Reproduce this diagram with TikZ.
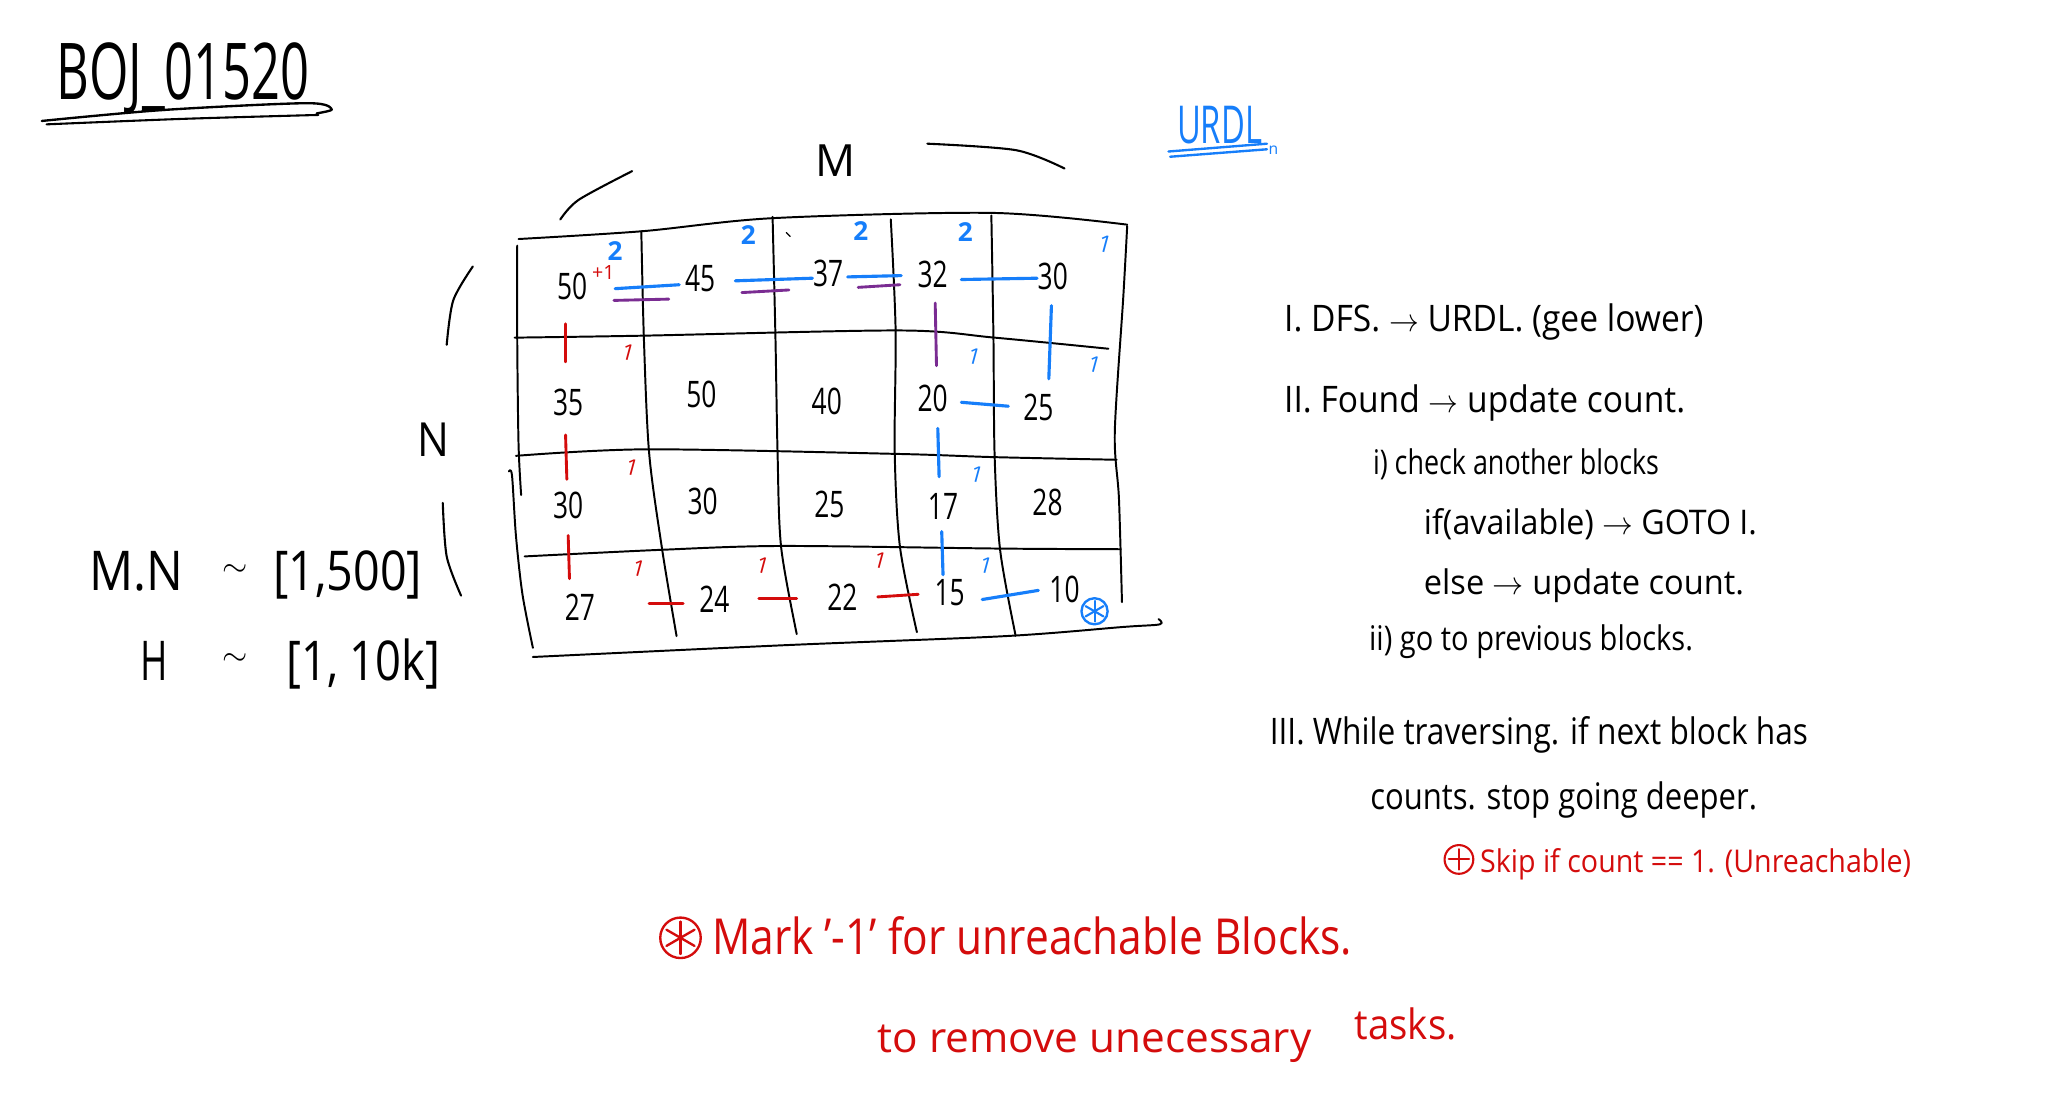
\documentclass[tikz,border=0pt]{standalone}
\usepackage{fontspec}
\setmainfont{Open Sans}
\usepackage{graphicx}
\definecolor{blueC}{RGB}{22,126,250}
\definecolor{redC}{RGB}{212,12,12}
\definecolor{purpC}{RGB}{122,44,146}
\newcommand{\fitw}[2]{\resizebox{#1pt}{\height}{#2}}
\newcommand{\fs}[1]{\fontsize{#1}{#1}\selectfont}
\begin{document}
\begin{tikzpicture}[x=1pt,y=-1pt,line cap=round,line join=round,
  gridl/.style={line width=1.5pt},
  num/.style={font=\fs{28}, inner sep=0pt, xscale=0.72},
  bl/.style={draw=blueC,line width=2.4pt},
  rd/.style={draw=redC,line width=2.2pt},
  pu/.style={draw=purpC,line width=2.2pt},
  cnt/.style={text=blueC,font=\bfseries\fs{20},inner sep=0pt},
  tk/.style={font=\fs{17},inner sep=0pt,rotate=-15},
  txt/.style={anchor=base west,inner sep=0pt},
  pen/.style={line width=1.6pt}]
\useasboundingbox[fill=white] (0,0) rectangle (1568,847);

% ---------- title ----------
\node[txt,font=\fs{60}] (title) at (43,76) {\fitw{194}{BOJ\_01520}};
\draw[line width=1.8pt] plot[smooth] coordinates {(32,92.6) (125,84.2) (234.8,79) (254,83.7) (242.5,86.8)};
\draw[line width=1.6pt] plot[smooth] coordinates {(35.7,95.2) (140,91) (243.7,88)};

% ---------- URDL ----------
\node[txt,font=\fs{40},text=blueC] (urdl) at (901,110) {\fitw{65}{URDL}};
\draw[draw=blueC,line width=1.8pt] (894.6,116) -- (970,110);
\draw[draw=blueC,line width=1.8pt] (895.9,120) -- (970,114.3);
\node[font=\fs{12},text=blueC,inner sep=0pt] (urdln) at (975,115) {n};

% ---------- M / N labels ----------
\node[font=\fs{34},inner sep=0pt] (Mlab) at (640,123) {M};
\draw[pen] plot[smooth] coordinates {(429,168) (443,153) (484,131)};
\draw[pen] plot[smooth] coordinates {(710,110) (778,115) (815,129)};
\node[font=\fs{36},inner sep=0pt,xscale=0.9] (Nlab) at (332,337) {N};
\draw[pen] plot[smooth] coordinates {(362,204) (347,230) (342,264)};
\draw[pen] plot[smooth] coordinates {(339,385) (342,426) (353,456)};

% ---------- grid ----------
\draw[gridl] plot[smooth] coordinates {(397,183) (492,177) (592,167) (760,163) (863,172)};
\draw[gridl] plot[smooth] coordinates {(394,258.5) (492,257) (689,253) (761.5,258.5) (848.6,267)};
\draw[gridl] plot[smooth] coordinates {(395,349) (495,344) (686,347.5) (761.5,350) (855,352)};
\draw[gridl] plot[smooth] coordinates {(401.7,426) (505,421) (598.5,418) (766,420) (858,420.5)};
\draw[gridl] plot[smooth] coordinates {(408,503) (600,494) (770,487) (860,480) (888,478) (887,474)};
\draw[gridl] plot[smooth] coordinates {(396,188) (396,260) (397,340) (399,379)};
\draw[gridl] plot[smooth] coordinates {(389.5,361) (392,364) (395,410) (400,455) (408,496)};
\draw[gridl] plot[smooth] coordinates {(491,177) (493,260) (497,347) (507,421) (518,487)};
\draw[gridl] plot[smooth] coordinates {(591.5,166) (593.7,258.5) (595.3,346) (598,418.5) (610,485.5)};
\draw[gridl] plot[smooth] coordinates {(682,168) (685.7,253) (685,346) (689,418.5) (702,484)};
\draw[gridl] plot[smooth] coordinates {(759,165) (760.6,258.5) (761.5,348.8) (765.7,421) (777.6,486.8)};
\draw[gridl] plot[smooth] coordinates {(863,173) (860,227.5) (853.5,331) (856.7,382) (859,461)};
\draw[line width=1pt] (602,178) -- (605,181);

% ---------- cell numbers ----------
\node[num] (n11) at (438,219) {50};
\node[num] (n12) at (536,213) {45};
\node[num] (n13) at (634,209) {37};
\node[num] (n14) at (714,210) {32};
\node[num] (n15) at (806,212) {30};
\node[num] (n21) at (435,308) {35};
\node[num] (n22) at (537,302) {50};
\node[num] (n23) at (633,307) {40};
\node[num] (n24) at (714,305) {20};
\node[num] (n25) at (795,312) {25};
\node[num] (n31) at (435,387) {30};
\node[num] (n32) at (538,384) {30};
\node[num] (n33) at (635,386) {25};
\node[num] (n34) at (722,388) {17};
\node[num] (n35) at (802,385) {28};
\node[num] (n41) at (444,465) {27};
\node[num] (n42) at (547,459) {24};
\node[num] (n43) at (645,457) {22};
\node[num] (n44) at (727,454) {15};
\node[num] (n45) at (815,451) {10};

% ---------- counts ----------
\node[cnt] (k1) at (471,192) {2};
\node[cnt] (k2) at (573,180) {2};
\node[cnt] (k3) at (659,177) {2};
\node[cnt] (k4) at (739,178) {2};
\node[cnt,rotate=-15,font=\fs{18}] (k5) at (846,187) {1};
\node[font=\fs{15},text=redC,inner sep=0pt] (plusone) at (462,209) {+1};

% ---------- tick marks ----------
\node[tk,text=redC] (t1) at (481,270) {1};
\node[tk,text=redC] (t2) at (484,358) {1};
\node[tk,text=redC] (t3) at (489,435) {1};
\node[tk,text=redC] (t4) at (584,433) {1};
\node[tk,text=redC] (t5) at (674,429) {1};
\node[tk,text=blueC] (t6) at (746,273) {1};
\node[tk,text=blueC] (t7) at (838,279) {1};
\node[tk,text=blueC] (t8) at (748,363) {1};
\node[tk,text=blueC] (t9) at (755,433) {1};

% ---------- connectors ----------
\draw[bl] ([shift={(33,2)}]n11.center) -- ([shift={(-16,5)}]n12.center);
\draw[pu] ([shift={(32,11)}]n11.center) -- ([shift={(-24,16)}]n12.center);
\draw[bl] ([shift={(27,2)}]n12.center) -- ([shift={(-12,4)}]n13.center);
\draw[pu] ([shift={(32,11)}]n12.center) -- ([shift={(-30,13)}]n13.center);
\draw[bl] ([shift={(15,3)}]n13.center) -- ([shift={(-24,1)}]n14.center);
\draw[pu] ([shift={(23,11)}]n13.center) -- ([shift={(-25,8)}]n14.center);
\draw[bl] ([shift={(22,4)}]n14.center) -- ([shift={(-12,1)}]n15.center);
\draw[pu] ([shift={(2,22)}]n14.center) -- ([shift={(3,-25)}]n24.center);
\draw[bl] ([shift={(-1,22)}]n15.center) -- ([shift={(8,-22)}]n25.center);
\draw[bl] ([shift={(22,3)}]n24.center) -- ([shift={(-23,-1)}]n25.center);
\draw[bl] ([shift={(4,23)}]n24.center) -- ([shift={(-3,-23)}]n34.center);
\draw[bl] ([shift={(-1,19)}]n34.center) -- ([shift={(-5,-14)}]n44.center);
\draw[bl] ([shift={(25,5)}]n44.center) -- ([shift={(-20,1)}]n45.center);
\draw[rd] ([shift={(-5,29)}]n11.center) -- ([shift={(-2,-31)}]n21.center);
\draw[rd] ([shift={(-2,25)}]n21.center) -- ([shift={(-1,-20)}]n31.center);
\draw[rd] ([shift={(0,23)}]n31.center) -- ([shift={(-8,-22)}]n41.center);
\draw[rd] ([shift={(53,-3)}]n41.center) -- ([shift={(-24,3)}]n42.center);
\draw[rd] ([shift={(34,-1)}]n42.center) -- ([shift={(-35,1)}]n43.center);
\draw[rd] ([shift={(27,0)}]n43.center) -- ([shift={(-24,1)}]n44.center);

% blue circled asterisk
\node[circle,draw=blueC,line width=1.8pt,minimum size=20pt,inner sep=0pt] (goal) at (838,468) {};
\foreach \a in {90,30,150}{
  \draw[draw=blueC,line width=1.6pt,shorten <=3pt,shorten >=3pt] (goal.\a) -- (goal.\a+180);
}

% ---------- limits ----------
\node[txt,font=\fs{42}] (mn) at (68,452) {\fitw{72}{M.N}};
\node[font=\fs{40},inner sep=0pt] (mnsim) at (180,437) {$\sim$};
\node[txt,font=\fs{42}] (mnr) at (209,452) {\fitw{114}{[1,500]}};
\node[txt,font=\fs{42}] (h) at (107,521) {\fitw{21}{H}};
\node[font=\fs{40},inner sep=0pt] (hsim) at (180,505) {$\sim$};
\node[txt,font=\fs{42}] (hr) at (219,521) {\fitw{118}{[1, 10k]}};

% ---------- steps ----------
\node[txt,font=\fs{28}] (s1) at (983,254) {\fitw{321}{I. DFS. $\rightarrow$ URDL. (gee lower)}};
\node[txt,font=\fs{28}] (s2) at (983,316) {\fitw{307}{II. Found $\rightarrow$ update count.}};
\node[txt,font=\fs{26}] (s3) at (1051,363) {\fitw{219}{i) check another blocks}};
\node[txt,font=\fs{26}] (s4) at (1090,409) {\fitw{255}{if(available) $\rightarrow$ GOTO I.}};
\node[txt,font=\fs{26}] (s5) at (1090,455) {\fitw{245}{else $\rightarrow$ update count.}};
\node[txt,font=\fs{26}] (s6) at (1048,498) {\fitw{248}{ii) go to previous blocks.}};
\node[txt,font=\fs{28}] (s7) at (972,570) {\fitw{412}{III. While traversing. if next block has}};
\node[txt,font=\fs{28}] (s8) at (1049,620) {\fitw{296}{counts. stop going deeper.}};

\node[circle,draw=redC,line width=1.6pt,minimum size=22pt,inner sep=0pt] (plus) at (1117,658) {};
\draw[draw=redC,line width=1.6pt,shorten <=4pt,shorten >=4pt] (plus.north) -- (plus.south);
\draw[draw=redC,line width=1.6pt,shorten <=4pt,shorten >=4pt] (plus.west) -- (plus.east);
\node[txt,font=\fs{24},text=redC] (s9) at (1133,668) {\fitw{330}{Skip if count == 1. (Unreachable)}};

% ---------- red notes ----------
\node[circle,draw=redC,line width=1.8pt,minimum size=31pt,inner sep=0pt] (star) at (521,718) {};
\foreach \a in {90,30,150}{
  \draw[draw=redC,line width=1.8pt,shorten <=4pt,shorten >=4pt] (star.\a) -- (star.\a+180);
}
\node[txt,font=\fs{38},text=redC] (m1) at (545,731) {\fitw{490}{Mark '-1' for unreachable Blocks.}};
\node[txt,font=\fs{32},text=redC] (m2) at (672,806) {\fitw{332}{to remove unecessary}};
\node[txt,font=\fs{32},text=redC] (m3) at (1037,796) {\fitw{78}{tasks.}};
\end{tikzpicture}
\end{document}
